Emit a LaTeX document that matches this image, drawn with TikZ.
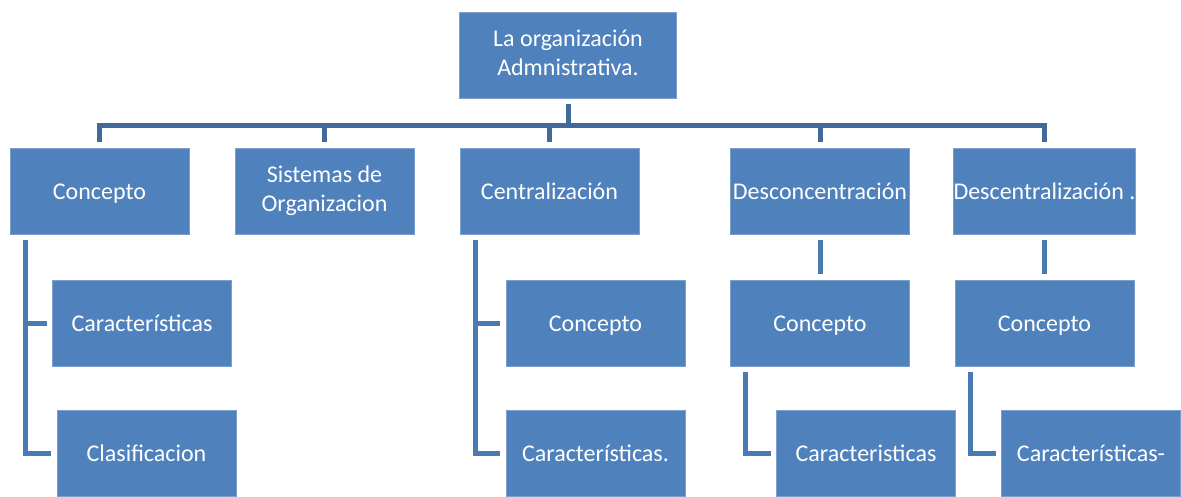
\documentclass[tikz,border=0pt]{standalone}
\usepackage{fontspec}
\setmainfont{Carlito}
\definecolor{boxblue}{HTML}{4F81BD}
\definecolor{busblue}{HTML}{41699A}
\definecolor{linkblue}{HTML}{4A7AB4}
\begin{document}
\begin{tikzpicture}[x=1pt, y=-1pt,
    box/.style={fill=boxblue, draw=boxblue!75!white, line width=0.6pt, text=white,
      minimum width=179pt, minimum height=86pt, inner sep=0pt, outer sep=6pt,
      align=center, font=\fontsize{24}{29}\selectfont,
      execute at begin node={\vphantom{Áp}}},
    branch/.style={draw=busblue, line width=5pt},
    link/.style={draw=linkblue, line width=5pt}]
    \useasboundingbox (0, 0) rectangle (1181, 496);

    \node[box, minimum width=217pt] (top) at (568, 55) {La organización\\Admnistrativa.};

    \node[box] (c1) at (99.5, 191) {Concepto};
    \node[box] (c2) at (324.5, 191) {Sistemas de\\Organizacion};
    \node[box] (c3) at (549.5, 191) {Centralización};
    \node[box] (c4) at (820, 191) {Desconcentración};
    \node[box] (c5) at (1044.5, 191) {Descentralización .};

    \node[box] (c1a) at (142, 323) {Características};
    \node[box] (c1b) at (146.5, 453) {Clasificacion};
    \node[box] (c3a) at (595.5, 323) {Concepto};
    \node[box] (c3b) at (595.5, 453) {Características.};
    \node[box] (c4a) at (820, 323) {Concepto};
    \node[box] (c4b) at (866, 453) {Caracteristicas};
    \node[box] (c5a) at (1044.5, 323) {Concepto};
    \node[box] (c5b) at (1091, 453) {Características-};

    \coordinate (bus) at (0, 125);

    \foreach \n in {c1, c2, c3, c4, c5} {
      \draw[branch] (top.south) -- (top.south |- bus) -| (\n.north);
    }

    \draw[link] ([xshift=21pt]c1.south west) |- (c1a.west);
    \draw[link] ([xshift=21pt]c1.south west) |- (c1b.west);
    \draw[link] ([xshift=21pt]c3.south west) |- (c3a.west);
    \draw[link] ([xshift=21pt]c3.south west) |- (c3b.west);

    \draw[link] (c4.south) -- (c4a.north);
    \draw[link] (c5.south) -- (c5a.north);
    \draw[link] ([xshift=21pt]c4a.south west) |- (c4b.west);
    \draw[link] ([xshift=21pt]c5a.south west) |- (c5b.west);
\end{tikzpicture}
\end{document}
